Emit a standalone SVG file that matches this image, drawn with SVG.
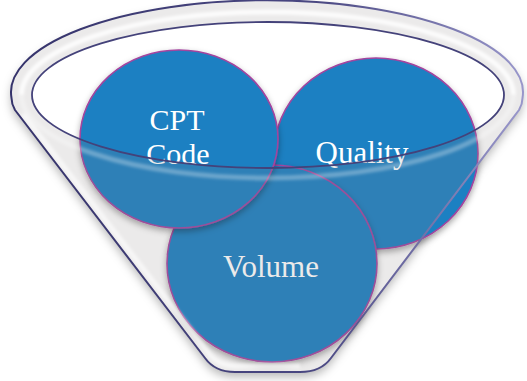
<svg xmlns="http://www.w3.org/2000/svg" width="527" height="381" viewBox="0 0 527 381">
  <defs>
    <style>
      .disc{fill:#1f80c2;stroke:#a3449e;stroke-width:1.6;filter:url(#discShadow)}
      .lbl{font-family:"Liberation Serif","Times New Roman",serif;font-size:31px;fill:#ffffff;text-anchor:middle}
      .lbl2{font-size:30px}
      .rimLine{fill:none;stroke-linejoin:round}
    </style>
    <filter id="discShadow" x="-20%" y="-20%" width="140%" height="150%">
      <feDropShadow dx="0" dy="3" stdDeviation="3" flood-color="#000000" flood-opacity="0.35"/>
    </filter>
    <filter id="funnelShadow" x="-10%" y="-10%" width="120%" height="130%">
      <feDropShadow dx="0" dy="5" stdDeviation="5" flood-color="#000000" flood-opacity="0.28"/>
    </filter>
    <filter id="soft" x="-10%" y="-10%" width="120%" height="120%">
      <feGaussianBlur stdDeviation="1.5"/>
    </filter>
    <linearGradient id="edge" gradientUnits="userSpaceOnUse" x1="0" y1="0" x2="527" y2="0">
      <stop offset="0" stop-color="#34326a"/>
      <stop offset="0.6" stop-color="#4a4882"/>
      <stop offset="1" stop-color="#9a98cc"/>
    </linearGradient>
    <path id="outline" d="M15,110 Q11.5,104 11.5,98 A256,92 0 1 1 522.5,98 Q522.5,104 519,110 L331,358 Q321,372 300,372 L235,372 Q215,372 205,358 Z"/>
    <clipPath id="funnelClip"><use href="#outline"/></clipPath>
  </defs>

  <!-- funnel back wall -->
  <g id="funnel-back">
    <use href="#outline" fill="#ffffff" filter="url(#funnelShadow)"/>
  </g>

  <!-- discs, back to front -->
  <g id="quality">
    <ellipse class="disc" cx="376" cy="153.5" rx="102" ry="95.5"/>
    <text class="lbl" x="362" y="163">Quality</text>
  </g>
  <g id="volume">
    <ellipse class="disc" cx="272" cy="263.5" rx="105" ry="98.5"/>
    <text class="lbl" x="271" y="277">Volume</text>
  </g>
  <g id="cpt-code">
    <ellipse class="disc" cx="179" cy="139" rx="99" ry="89"/>
    <text class="lbl lbl2" x="177" y="130">CPT</text>
    <text class="lbl lbl2" x="178" y="164">Code</text>
  </g>

  <!-- funnel front face and rim -->
  <g id="funnel-front">
    <path fill="#8a8580" fill-opacity="0.17" fill-rule="evenodd"
          d="M15,110 Q11.5,104 11.5,98 A256,92 0 1 1 522.5,98 Q522.5,104 519,110 L331,358 Q321,372 300,372 L235,372 Q215,372 205,358 Z
             M32,95 A236,73 0 1 0 504,95 A236,73 0 1 0 32,95 Z"/>
    <g clip-path="url(#funnelClip)">
      <!-- rim highlight -->
      <path d="M21.5,95 A246,83 0 0 1 513.5,95" fill="none" stroke="#ffffff" stroke-width="5" stroke-opacity="0.85" filter="url(#soft)"/>
      <path d="M21.5,95 A246,83 0 0 0 513.5,95" fill="none" stroke="#ffffff" stroke-width="5" stroke-opacity="0.3" filter="url(#soft)"/>
      <!-- wall highlight -->
      <path d="M23,114 L211,356 Q220,366 236,366 L300,366" fill="none" stroke="#ffffff" stroke-width="5" stroke-opacity="0.6" filter="url(#soft)"/>
    </g>
    <use href="#outline" class="rimLine" stroke="url(#edge)" stroke-width="2"/>
    <ellipse cx="268" cy="95" rx="236" ry="73" class="rimLine" stroke="#44427a" stroke-width="1.8"/>
  </g>
</svg>
